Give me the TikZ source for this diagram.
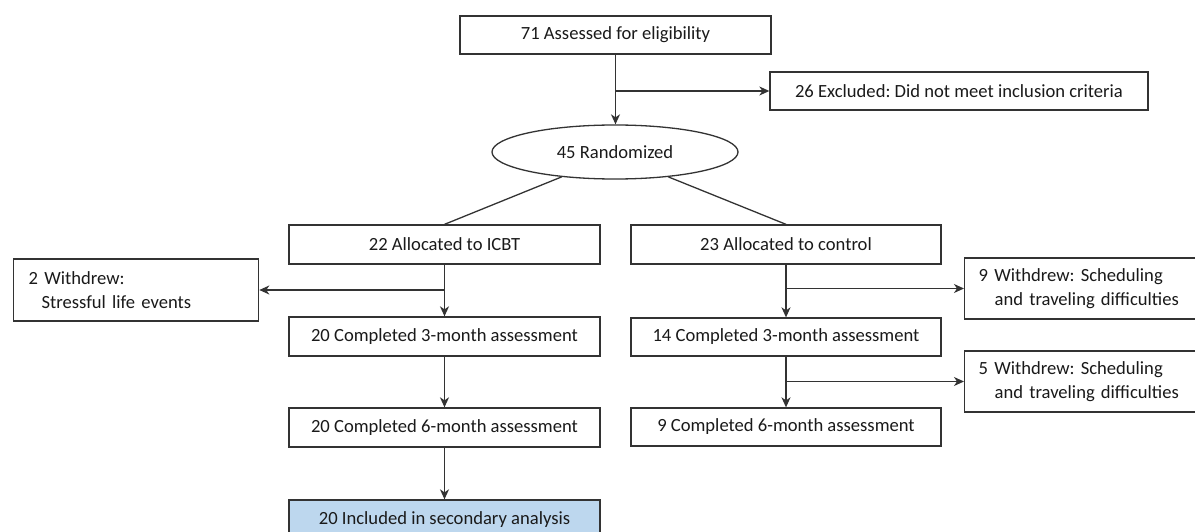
\documentclass[tikz,border=0pt]{standalone}
\usepackage{fontspec}
\setmainfont{Carlito}
\frenchspacing
\usetikzlibrary{shapes.geometric,arrows.meta,calc}
\definecolor{linec}{HTML}{333333}
\definecolor{textc}{HTML}{1A1A1A}
\definecolor{inclfill}{HTML}{BDD7EE}
\begin{document}
\begin{tikzpicture}[x=1pt,y=-1pt,
  every node/.style={font=\fontsize{18.6pt}{24pt}\selectfont, text=textc},
  box/.style={draw=linec, line width=1.3pt, fill=white, inner sep=0pt, minimum height=39pt},
  sidebox/.style={box, align=left, anchor=west, inner xsep=14pt, minimum height=61pt},
  oval/.style={draw=linec, line width=1.3pt, ellipse, inner sep=0pt, minimum width=246pt, minimum height=54pt},
  conn/.style={draw=linec, line width=1.3pt},
  arr/.style={conn, -{Stealth[length=10pt,width=9pt,inset=3pt]}}
]
\useasboundingbox (0,0) rectangle (1195,532);

\node[box, minimum width=311pt, minimum height=38pt] (top) at (615.5,35) {71 Assessed for eligibility};
\node[box, minimum width=378pt, minimum height=38pt] (excl) at (959,91) {26 Excluded: Did not meet inclusion criteria};
\node[oval] (rand) at (615,152) {45 Randomized};

\node[box, minimum width=311pt] (icbt) at (444.5,244.5) {22 Allocated to ICBT};
\node[box, minimum width=310pt] (ctrl) at (786,244.5) {23 Allocated to control};

\node[sidebox, minimum width=245pt, text width=215pt, minimum height=62pt] (wtwo) at (13,290)
  {2 Withdrew:\\\hspace*{13pt}Stressful life events};

\node[box, minimum width=311pt] (cthreeL) at (444.5,336.5) {20 Completed 3-month assessment};
\node[box, minimum width=311pt] (csixL) at (444.5,427.5) {20 Completed 6-month assessment};
\node[box, minimum width=311pt, fill=inclfill] (incl) at (444.5,519.5) {20 Included in secondary analysis};

\node[sidebox, minimum width=231pt, text width=203pt] (wnine) at (964,288.5)
  {9 Withdrew: Scheduling\\\hspace*{16pt}and traveling difficulties};
\node[box, minimum width=310pt, minimum height=38pt] (cthreeR) at (786,337) {14 Completed 3-month assessment};
\node[sidebox, minimum width=231pt, text width=203pt] (wfive) at (964,381.5)
  {5 Withdrew: Scheduling\\\hspace*{16pt}and traveling difficulties};
\node[box, minimum width=310pt, minimum height=38pt] (csixR) at (786,427) {9 Completed 6-month assessment};

% connectors
\draw[arr] (top.south) -- (top.south |- rand.north);
\draw[arr] (top.south |- excl.west) -- (excl.west);
\draw[conn] (rand.205) -- (icbt.north);
\draw[conn] (rand.335) -- (ctrl.north);

\draw[arr] (icbt.south) -- (cthreeL.north);
\draw[arr] (icbt.south |- wtwo.east) -- (wtwo.east);
\draw[arr] (cthreeL.south) -- (csixL.north);
\draw[arr] (csixL.south) -- (incl.north);

\draw[arr] (ctrl.south) -- (ctrl.south |- cthreeR.north);
\draw[arr] (ctrl.south |- wnine.west) -- (wnine.west);
\draw[arr] (cthreeR.south) -- (csixR.north);
\draw[arr] (cthreeR.south |- wfive.west) -- (wfive.west);
\end{tikzpicture}
\end{document}
